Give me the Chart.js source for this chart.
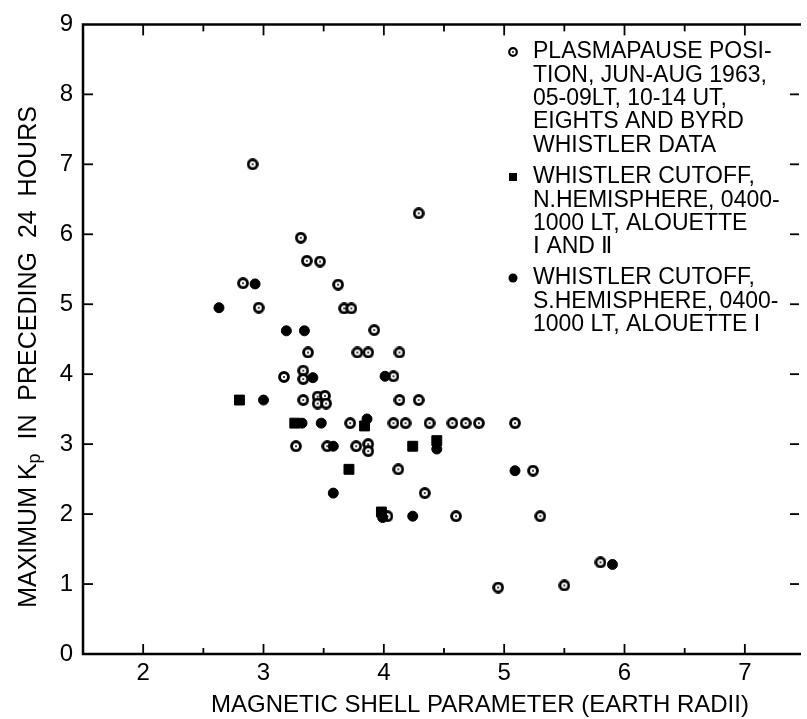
<!DOCTYPE html>
<html>
<head>
<meta charset="utf-8">
<title>Maximum Kp vs magnetic shell parameter</title>
<style>
  html, body { margin: 0; padding: 0; background: #fff; }
  #wrap { width: 807px; height: 719px; }
</style>
<script src="https://cdn.jsdelivr.net/npm/chart.js@4.4.1/dist/chart.umd.min.js"></script>
</head>
<body>
<div id="wrap"><canvas id="kpChart" width="807" height="719"></canvas></div>
<script>
// Tick labels
const xTicks = [2, 3, 4, 5, 6, 7];
const yTicks = [0, 1, 2, 3, 4, 5, 6, 7, 8, 9];

// Plasmapause position, Eights and Byrd whistler data (open circles)
const plasmaL = [2.91, 4.29, 3.31, 3.36, 3.47, 2.83, 3.62, 2.96, 3.67, 3.73, 3.92, 3.37, 3.78, 3.87, 4.13, 3.17,
  3.33, 3.33, 4.08, 3.33, 3.45, 3.51, 3.45, 3.52, 4.13, 4.29, 3.72, 4.08, 4.18, 4.38, 4.57, 4.68,
  4.79, 5.09, 3.27, 3.53, 3.77, 3.87, 3.87, 4.12, 5.24, 4.34, 4.03, 4.60, 5.30, 5.80, 4.95, 5.50];
const plasmaKp = [7.0, 6.3, 5.95, 5.62, 5.61, 5.3, 5.28, 4.95, 4.94, 4.94, 4.63, 4.31, 4.31, 4.31, 4.31, 3.96,
  4.05, 3.93, 3.97, 3.63, 3.68, 3.69, 3.58, 3.58, 3.63, 3.63, 3.30, 3.30, 3.30, 3.30, 3.30, 3.30,
  3.30, 3.30, 2.97, 2.97, 2.97, 3.0, 2.9, 2.64, 2.62, 2.30, 1.97, 1.97, 1.97, 1.31, 0.95, 0.98];

// Whistler cutoff, N. hemisphere, Alouette I and II (filled squares)
const northL = [2.80, 3.26, 3.84, 4.24, 4.44, 3.71, 3.98];
const northKp = [3.63, 3.30, 3.26, 2.97, 3.05, 2.64, 2.03];

// Whistler cutoff, S. hemisphere, Alouette I (filled circles)
const southL = [2.93, 2.63, 3.19, 3.34, 3.41, 4.01, 3.00, 3.32, 3.48, 3.86, 3.58, 4.44, 3.58, 3.99, 4.24, 5.09, 5.90];
const southKp = [5.29, 4.95, 4.62, 4.62, 3.95, 3.97, 3.63, 3.30, 3.30, 3.36, 2.97, 2.93, 2.30, 1.95, 1.97, 2.62, 1.28];

const xTitle = 'MAGNETIC SHELL PARAMETER (EARTH RADII)';
const legendGroups = [
  { marker: 'ring', lines: ['PLASMAPAUSE POSI-', 'TION, JUN-AUG 1963,', '05-09LT, 10-14 UT,', 'EIGHTS AND BYRD', 'WHISTLER DATA'] },
  { marker: 'square', lines: ['WHISTLER CUTOFF,', 'N.HEMISPHERE, 0400-', '1000 LT, ALOUETTE', '\u2160 AND \u2161'] },
  { marker: 'dot', lines: ['WHISTLER CUTOFF,', 'S.HEMISPHERE, 0400-', '1000 LT, ALOUETTE I'] }
];

const ink = '#000';
const fontFamily = '"Liberation Sans", Arial, sans-serif';

function toPoints(xs, ys) {
  return xs.map((v, i) => ({ x: v, y: ys[i] }));
}

// open circle with a centre dot, drawn once and used as the point style
function makeRing(d, lw, dot) {
  const c = document.createElement('canvas');
  c.width = d;
  c.height = d;
  const g = c.getContext('2d');
  g.strokeStyle = ink;
  g.fillStyle = '#fff';
  g.lineWidth = lw;
  g.beginPath();
  g.arc(d / 2, d / 2, d / 2 - lw / 2 - 0.1, 0, Math.PI * 2);
  g.fill();
  g.stroke();
  g.fillStyle = ink;
  g.beginPath();
  g.arc(d / 2, d / 2, dot, 0, Math.PI * 2);
  g.fill();
  return c;
}

const ringPoint = makeRing(12, 2.9, 1.0);
const ringLegend = makeRing(10, 2.2, 0.9);

function line(ctx, x1, y1, x2, y2) {
  ctx.beginPath();
  ctx.moveTo(x1, y1);
  ctx.lineTo(x2, y2);
  ctx.stroke();
}

// frame with inward ticks on all sides
const framePlugin = {
  id: 'frame',
  beforeDatasetsDraw(chart) {
    const { ctx, chartArea: a, scales: { x, y } } = chart;
    ctx.save();
    ctx.strokeStyle = ink;
    ctx.lineWidth = 2.5;
    ctx.beginPath();
    ctx.moveTo(a.right + 2, a.top);
    ctx.lineTo(a.left, a.top);
    ctx.lineTo(a.left, a.bottom);
    ctx.lineTo(a.right + 2, a.bottom);
    ctx.stroke();

    ctx.lineWidth = 1.8;
    xTicks.forEach(v => {
      const px = x.getPixelForValue(v);
      line(ctx, px, a.bottom, px, a.bottom - 10);
      line(ctx, px, a.top, px, a.top + 11);
      const pm = x.getPixelForValue(v + 0.5);
      if (pm < a.right) {
        line(ctx, pm, a.bottom, pm, a.bottom - 6);
        line(ctx, pm, a.top, pm, a.top + 7);
      }
    });
    yTicks.forEach(v => {
      if (v === 0 || v === 9) return;
      const py = y.getPixelForValue(v);
      line(ctx, a.left, py, a.left + 10, py);
      line(ctx, a.right, py, a.right - 9, py);
    });
    ctx.restore();
  },
  afterDraw(chart) {
    const { ctx } = chart;
    ctx.save();
    ctx.fillStyle = ink;

    // x axis title
    ctx.font = '24px ' + fontFamily;
    ctx.textAlign = 'center';
    ctx.textBaseline = 'middle';
    ctx.fillText(xTitle, 480, 705);

    // y axis title with subscript p
    const big = '25px ' + fontFamily;
    const small = '18px ' + fontFamily;
    const partA = 'MAXIMUM K';
    const partB = 'p';
    const partC = '  IN  PRECEDING  24  HOURS';
    ctx.font = big;
    const wA = ctx.measureText(partA).width;
    const wC = ctx.measureText(partC).width;
    ctx.font = small;
    const wB = ctx.measureText(partB).width;
    const total = wA + wB + wC;
    ctx.translate(29, 357);
    ctx.rotate(-Math.PI / 2);
    ctx.textAlign = 'left';
    let cx = -total / 2;
    ctx.font = big;
    ctx.fillText(partA, cx, 0);
    cx += wA;
    ctx.font = small;
    ctx.fillText(partB, cx, 6);
    cx += wB;
    ctx.font = big;
    ctx.fillText(partC, cx, 0);
    ctx.setTransform(1, 0, 0, 1, 0, 0);

    // legend
    const starts = [52, 177, 278];
    ctx.font = '23px ' + fontFamily;
    ctx.textAlign = 'left';
    ctx.textBaseline = 'middle';
    legendGroups.forEach((grp, gi) => {
      const y0 = starts[gi];
      if (grp.marker === 'ring') {
        ctx.drawImage(ringLegend, 513 - 5, y0 - 5);
      } else if (grp.marker === 'square') {
        ctx.fillRect(509, y0 - 4, 8, 8);
      } else {
        ctx.beginPath();
        ctx.arc(513, y0, 4.5, 0, Math.PI * 2);
        ctx.fill();
      }
      grp.lines.forEach((t, li) => {
        ctx.fillText(t, 533, y0 + li * 23.3);
      });
    });
    ctx.restore();
  }
};

new Chart(document.getElementById('kpChart'), {
  type: 'scatter',
  data: {
    datasets: [
      {
        label: 'Whistler cutoff, S. hemisphere',
        data: toPoints(southL, southKp),
        pointStyle: 'circle',
        pointRadius: 5,
        borderWidth: 1,
        backgroundColor: ink,
        borderColor: ink
      },
      {
        label: 'Whistler cutoff, N. hemisphere',
        data: toPoints(northL, northKp),
        pointStyle: 'rect',
        pointRadius: 7,
        borderWidth: 1,
        backgroundColor: ink,
        borderColor: ink
      },
      {
        label: 'Plasmapause position',
        data: toPoints(plasmaL, plasmaKp),
        pointStyle: ringPoint,
        pointRadius: 6
      }
    ]
  },
  options: {
    responsive: false,
    animation: false,
    layout: { padding: { top: 16, right: 0, bottom: 0, left: 0 } },
    plugins: {
      legend: { display: false },
      tooltip: { enabled: false }
    },
    scales: {
      x: {
        type: 'linear',
        min: 1.5,
        max: 7.45,
        afterBuildTicks: s => { s.ticks = xTicks.map(v => ({ value: v })); },
        afterFit: s => { s.height = 65; },
        grid: { display: false, drawTicks: false },
        border: { display: false },
        ticks: {
          color: ink,
          padding: 5,
          maxRotation: 0,
          autoSkip: false,
          font: { family: fontFamily, size: 24 }
        }
      },
      y: {
        type: 'linear',
        min: 0,
        max: 9,
        afterBuildTicks: s => { s.ticks = yTicks.map(v => ({ value: v })); },
        afterFit: s => { s.width = 83; },
        grid: { display: false, drawTicks: false },
        border: { display: false },
        ticks: {
          color: ink,
          padding: 10,
          crossAlign: 'center',
          autoSkip: false,
          font: { family: fontFamily, size: 24 }
        }
      }
    }
  },
  plugins: [framePlugin]
});
</script>
</body>
</html>
